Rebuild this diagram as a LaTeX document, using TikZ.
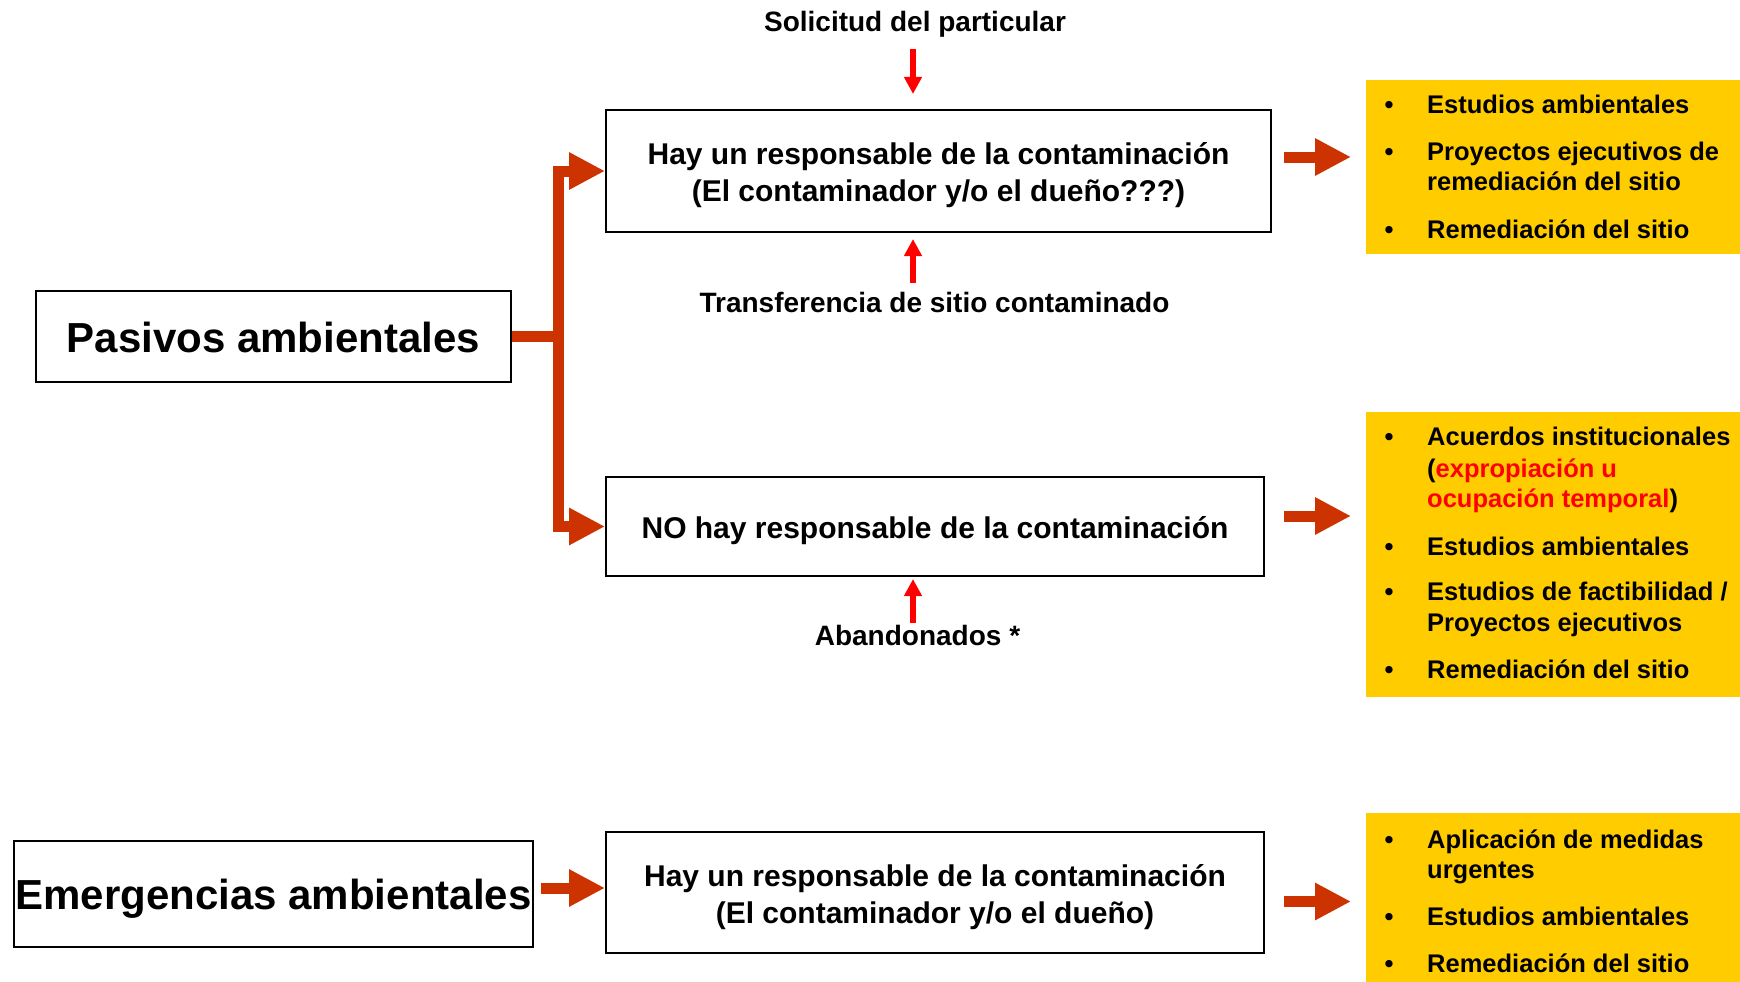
\documentclass[tikz,border=0pt]{standalone}
\usepackage{fontspec}
\setmainfont{Liberation Sans}
\usetikzlibrary{arrows.meta}
\definecolor{arrorange}{HTML}{CC3300}
\definecolor{boxyellow}{HTML}{FFCC00}
\definecolor{pured}{HTML}{FF0000}
\begin{document}
\begin{tikzpicture}[x=1pt,y=-1pt,
  box/.style={draw=black, line width=2pt, inner sep=0pt, align=center, font=\bfseries\fontsize{30}{37}\selectfont},
  bigbox/.style={draw=black, line width=2pt, inner sep=0pt, font=\bfseries\fontsize{42}{50}\selectfont},
  lbl/.style={anchor=base, inner sep=0pt, font=\bfseries\fontsize{28}{34}\selectfont},
  fatline/.style={draw=arrorange, line width=11pt, line join=miter},
  fat/.style={fatline, -{Triangle[length=36pt,width=35pt]}},
  redarrow/.style={draw=pured, line width=6pt, -{Triangle[length=17pt,width=17pt]}},
  ybox/.style={fill=boxyellow, draw=none, inner sep=0pt, anchor=north west, minimum width=374pt},
  item/.style={anchor=base west, align=left, inner sep=0pt, font=\bfseries\fontsize{25.5}{30.5}\selectfont},
  bul/.style={anchor=base, inner sep=0pt, font=\bfseries\fontsize{25.5}{30.5}\selectfont}]
\useasboundingbox (0,0) rectangle (1740,982);
\fill[white] (0,0) rectangle (1740,982);

% main boxes
\node[bigbox, minimum width=475pt, minimum height=91pt] (pas) at (273.5,336) {\rule{0pt}{33pt}Pasivos ambientales};
\node[bigbox, minimum width=519pt, minimum height=106pt] (emer) at (273.5,894) {\rule{0pt}{39pt}Emergencias ambientales};
\node[box, minimum width=665pt, minimum height=122pt] (box1) at (938.5,171) {\rule{0pt}{31pt}Hay un responsable de la contaminación\\(El contaminador y/o el dueño???)};
\node[box, minimum width=658pt, minimum height=99pt] (box2) at (935,526.5) {\rule{0pt}{30pt}NO hay responsable de la contaminación};
\node[box, minimum width=658pt, minimum height=121pt] (box3) at (935,892.5) {\rule{0pt}{31pt}Hay un responsable de la contaminación\\(El contaminador y/o el dueño)};

% labels
\node[lbl] (sol) at (915,32) {Solicitud del particular};
\node[lbl] (tra) at (934.5,312) {Transferencia de sitio contaminado};
\node[lbl] (aba) at (917.5,645) {Abandonados *};

% red arrows
\coordinate (solA) at (913,49); \coordinate (solB) at (913,94);
\coordinate (traA) at (913,283); \coordinate (traB) at (913,239);
\coordinate (abaA) at (913,623); \coordinate (abaB) at (913,579);
\draw[redarrow] (solA) -- (solB);
\draw[redarrow] (traA) -- (traB);
\draw[redarrow] (abaA) -- (abaB);

% bracket
\coordinate (jn) at (558.5,336);
\draw[fatline] (pas.east) -- (jn);
\draw[fat] (jn) |- (box1.west);
\draw[fat] (jn) |- (box2.west);
\coordinate (emA) at (541,888);
\draw[fat] (emA) -- (box3.west |- emA);

% yellow boxes
\node[ybox, minimum height=174pt] (y1) at (1366,80) {};
\node[ybox, minimum height=285pt] (y2) at (1366,412) {};
\node[ybox, minimum height=169pt] (y3) at (1366,813) {};

% big arrows to yellow boxes
\coordinate (r1A) at (1284,157); \coordinate (r1B) at (1351,157);
\coordinate (r2A) at (1284,516); \coordinate (r2B) at (1351,516);
\coordinate (r3A) at (1284,901.5); \coordinate (r3B) at (1351,901.5);
\draw[fat] (r1A) -- (r1B);
\draw[fat] (r2A) -- (r2B);
\draw[fat] (r3A) -- (r3B);

% items box 1
\node[bul] (b11) at (1389,113) {•};
\node[item] (i11) at (1427,113) {Estudios ambientales};
\node[bul] (b12) at (1389,160) {•};
\node[item] (i12) at (1427,160) {Proyectos ejecutivos de};
\node[item] (i12b) at (1427,190) {remediación del sitio};
\node[bul] (b13) at (1389,238) {•};
\node[item] (i13) at (1427,238) {Remediación del sitio};

% items box 2
\node[bul] (b21) at (1389,445) {•};
\node[item] (i21) at (1427,445) {Acuerdos institucionales};
\node[item] (i21b) at (1427,477) {(\textcolor{pured}{expropiación u}};
\node[item] (i21c) at (1427,507) {\textcolor{pured}{ocupación temporal})};
\node[bul] (b22) at (1389,555) {•};
\node[item] (i22) at (1427,555) {Estudios ambientales};
\node[bul] (b23) at (1389,600) {•};
\node[item] (i23) at (1427,600) {Estudios de factibilidad /};
\node[item] (i23b) at (1427,631) {Proyectos ejecutivos};
\node[bul] (b24) at (1389,678) {•};
\node[item] (i24) at (1427,678) {Remediación del sitio};

% items box 3
\node[bul] (b31) at (1389,848) {•};
\node[item] (i31) at (1427,848) {Aplicación de medidas};
\node[item] (i31b) at (1427,878) {urgentes};
\node[bul] (b32) at (1389,925) {•};
\node[item] (i32) at (1427,925) {Estudios ambientales};
\node[bul] (b33) at (1389,972) {•};
\node[item] (i33) at (1427,972) {Remediación del sitio};
\end{tikzpicture}
\end{document}
